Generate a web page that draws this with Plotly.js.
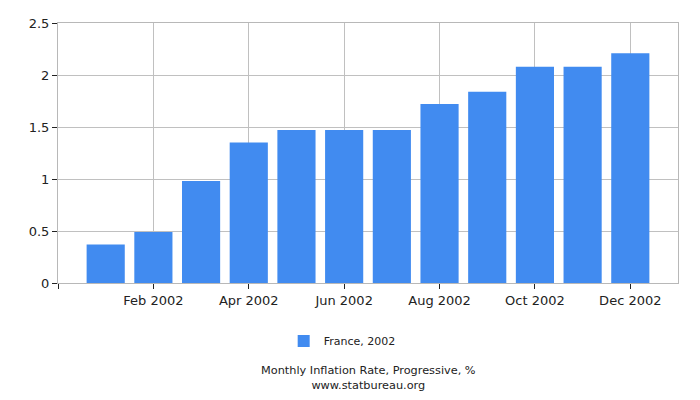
<!DOCTYPE html>
<html>
<head>
<meta charset="utf-8">
<script src="https://cdn.plot.ly/plotly-3.0.1.min.js"></script>
<style>html,body{margin:0;padding:0;background:#fff;}#chart{width:700px;height:400px;}</style>
</head>
<body>
<div id="chart"></div>
<script>
var categories = ["Jan 2002","Feb 2002","Mar 2002","Apr 2002","May 2002","Jun 2002","Jul 2002","Aug 2002","Sep 2002","Oct 2002","Nov 2002","Dec 2002"];
var values = [0.37, 0.49, 0.98, 1.35, 1.47, 1.47, 1.47, 1.72, 1.84, 2.08, 2.08, 2.21];
var tickLabels = ["", "Feb 2002", "Apr 2002", "Jun 2002", "Aug 2002", "Oct 2002", "Dec 2002"];
var tickPositions = [-1, 1, 3, 5, 7, 9, 11];
var seriesName = "France, 2002";
var chartTitle = "Monthly Inflation Rate, Progressive, %";
var siteName = "www.statbureau.org";

var trace = {
  type: "bar",
  x: categories,
  y: values,
  name: seriesName,
  marker: {color: "#418bf0"},
  showlegend: true,
  hoverinfo: "x+y"
};

var layout = {
  width: 700, height: 400,
  margin: {l: 57.5, r: 22, t: 22.5, b: 116.5},
  paper_bgcolor: "#fff", plot_bgcolor: "#fff",
  font: {family: "DejaVu Sans, Verdana, sans-serif", size: 13, color: "#222"},
  bargap: 0.2,
  xaxis: {
    type: "category",
    range: [-1, 12],
    tickvals: tickPositions,
    ticktext: tickLabels,
    showgrid: true, gridcolor: "#c0c0c0", gridwidth: 1,
    ticks: "outside", ticklen: 5, tickcolor: "#222",
    showline: true, linecolor: "#b8b8b8", mirror: true,
    zeroline: false,
    tickfont: {size: 13, color: "#222"}
  },
  yaxis: {
    range: [0, 2.5],
    dtick: 0.5,
    showgrid: true, gridcolor: "#c0c0c0", gridwidth: 1,
    ticks: "outside", ticklen: 5, tickcolor: "#222",
    showline: true, linecolor: "#b8b8b8", mirror: true,
    zeroline: false,
    tickfont: {size: 13, color: "#222"}
  },
  legend: {
    orientation: "h",
    x: 0.364, xanchor: "left",
    y: -0.167, yanchor: "top",
    font: {size: 11, color: "#222"}
  },
  annotations: [
    {text: chartTitle + "<br>" + siteName, xref: "paper", yref: "paper", x: 0.5, y: -0.364, xanchor: "center", yanchor: "middle", showarrow: false, font: {size: 11.3, color: "#222"}}
  ]
};

Plotly.newPlot("chart", [trace], layout, {displayModeBar: false, staticPlot: true});
</script>
</body>
</html>
